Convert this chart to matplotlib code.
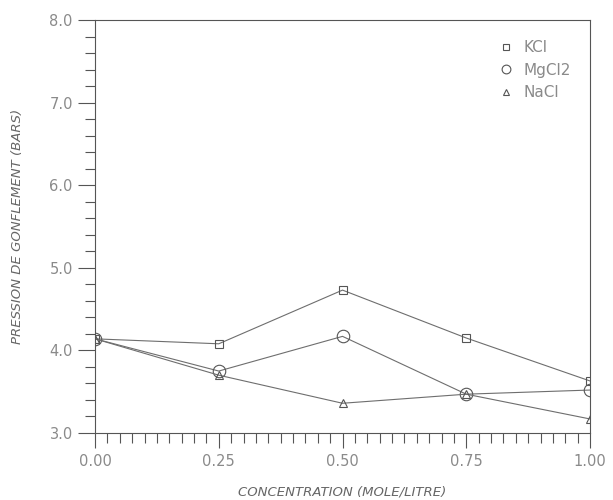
import matplotlib
matplotlib.use("Agg")
import matplotlib.pyplot as plt
from matplotlib.ticker import MultipleLocator, FormatStrFormatter

# concentration (mole/litre) and swelling pressure (bars)
conc = [0.00, 0.25, 0.50, 0.75, 1.00]
kcl = [4.14, 4.08, 4.73, 4.15, 3.63]
mgcl2 = [4.14, 3.75, 4.17, 3.47, 3.52]
nacl = [4.14, 3.70, 3.36, 3.47, 3.17]

line_col = "#6e6e6e"
text_col = "#8a8a8a"

fig = plt.figure(figsize=(6.13, 5), dpi=100)
ax = fig.add_axes([0.155, 0.134, 0.8075, 0.826])

ax.plot(conc, kcl, color=line_col, lw=0.8, marker="s", ms=6, mfc="none",
        mec="#555555", mew=0.8, label="KCl")
ax.plot(conc, mgcl2, color=line_col, lw=0.8, marker="o", ms=9, mfc="none",
        mec="#555555", mew=0.8, label="MgCl2")
ax.plot(conc, nacl, color=line_col, lw=0.8, marker="^", ms=6, mfc="none",
        mec="#555555", mew=0.8, label="NaCl")

ax.set_xlim(0, 1)
ax.set_ylim(3, 8)
ax.xaxis.set_major_locator(MultipleLocator(0.25))
ax.xaxis.set_minor_locator(MultipleLocator(0.025))
ax.yaxis.set_major_locator(MultipleLocator(1.0))
ax.yaxis.set_minor_locator(MultipleLocator(0.2))
ax.xaxis.set_major_formatter(FormatStrFormatter("%.2f"))
ax.yaxis.set_major_formatter(FormatStrFormatter("%.1f"))

ax.tick_params(which="major", direction="out", length=11, width=0.8,
               color="#555555", labelcolor=text_col, labelsize=10.5, pad=4)
ax.tick_params(which="minor", direction="out", length=7, width=0.8,
               color="#555555")
ax.tick_params(axis="y", which="major", length=12)
for sp in ax.spines.values():
    sp.set_color("#555555")
    sp.set_linewidth(0.8)

ax.set_xlabel("CONCENTRATION (MOLE/LITRE)", fontsize=9.5, style="italic",
              color="#666666", labelpad=12)
ax.set_ylabel("PRESSION DE GONFLEMENT (BARS)", fontsize=9.5, style="italic",
              color="#666666", labelpad=18)

leg = ax.legend(loc="upper right", bbox_to_anchor=(0.99, 0.985), frameon=False,
                fontsize=11, labelcolor=text_col, handlelength=0.8,
                handletextpad=0.8, labelspacing=0.5, markerscale=0.7)
for h in leg.legend_handles:
    h.set_linestyle("none")

fig.savefig("out.png", dpi=100)
